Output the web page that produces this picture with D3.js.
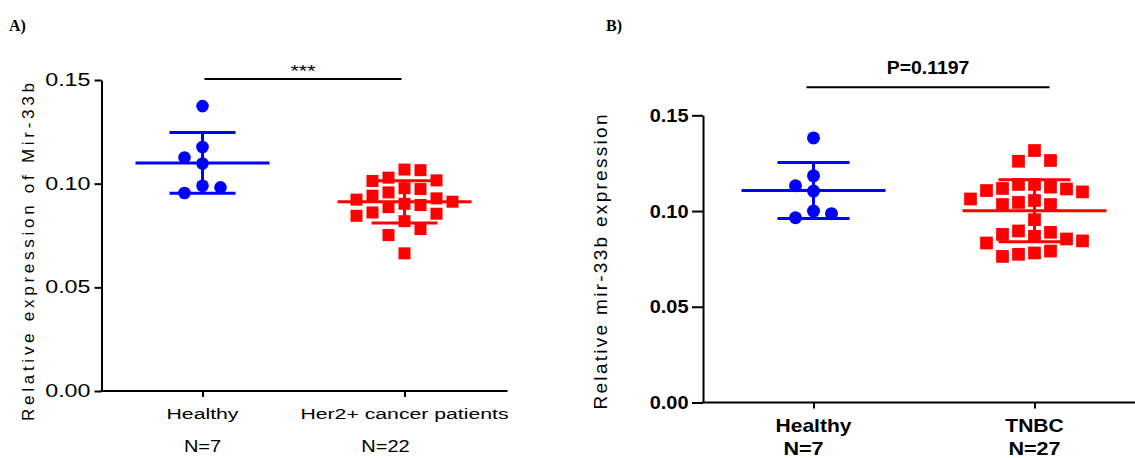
<!DOCTYPE html>
<html>
<head>
<meta charset="utf-8">
<script src="https://cdn.jsdelivr.net/npm/d3@7"></script>
<style>
  body { margin: 0; background: #fff; }
  svg { display: block; font-family: "Liberation Sans", Arial, sans-serif; }
</style>
</head>
<body>
<svg></svg>
<script>
// values
const groupsA = ["Healthy", "Her2+ cancer patients"];
const countsA = ["N=7", "N=22"];
const groupsB = ["Healthy", "TNBC"];
const countsB = ["N=7", "N=27"];
const yTicks = [0, 0.05, 0.10, 0.15];

const healthyA = [0.1374, 0.1177, 0.1126, 0.1097, 0.0990, 0.0982, 0.0955];
const her2 = [0.1068, 0.1065, 0.1016, 0.1029, 0.1013, 0.0978, 0.0958, 0.0942, 0.0974, 0.0929, 0.0913,
              0.0897, 0.0887, 0.0903, 0.0923, 0.0861, 0.0845, 0.0855, 0.0819, 0.0781, 0.0752, 0.0664];
const healthyB = [0.1382, 0.1184, 0.1132, 0.1104, 0.1000, 0.0986, 0.0965];
const tnbc = [0.1316, 0.1260, 0.1264, 0.1118, 0.1107, 0.1063, 0.1045, 0.1139, 0.1139, 0.1034, 0.1034,
              0.1055, 0.1100, 0.1115, 0.1125, 0.0955, 0.0896, 0.0854, 0.0833, 0.0878, 0.0868, 0.0889,
              0.0844, 0.0781, 0.0763, 0.0774, 0.0791];
const sigA = "***";
const sigB = "P=0.1197";

const svg = d3.select('svg')
  .attr('width', 1135)
  .attr('height', 458);

// simple beeswarm: points from high to low, pushed sideways on a half-step grid until free
const swarm = (values, y, cx, sx, sy) => {
  const half = sx / 2;
  const placed = [];
  values.map(v => v).sort((a, b) => b - a).forEach((v, n) => {
    const py = y(v);
    const hit = o => placed.some(p => Math.abs(p.y - py) < sy && Math.abs(p.off - o) < sx - 0.01);
    let off = 0;
    for (let k = 0; k < 40; k++) {
      const tries = k === 0 ? [0] : (n % 2 ? [k * half, -k * half] : [-k * half, k * half]);
      const ok = tries.find(o => !hit(o));
      if (ok !== undefined) { off = ok; break; }
    }
    placed.push({ v, y: py, off });
  });
  return placed.map(p => ({ value: p.v, x: cx + p.off, y: p.y }));
};

const font = (sel, f) => sel
  .attr('font-family', '"Liberation Sans", Arial, sans-serif')
  .attr('font-size', f.size)
  .attr('font-weight', f.weight)
  .attr('letter-spacing', f.spacing || 0)
  .attr('fill', '#000');

// the original figure text is drawn wide, so stretch it horizontally about its anchor
const stretch = (sel, s) => sel.each(function () {
  const t = d3.select(this);
  const x = +t.attr('x') || 0;
  const y = +t.attr('y') || 0;
  t.attr('x', 0).attr('y', 0)
    .attr('transform', `translate(${x},${y}) scale(${s},1)`);
});

const panels = [
  {
    label: "A)", labelX: 9, groups: groupsA, counts: countsA, series: [healthyA, her2],
    yTitle: "Relative expression of Mir-33b", sig: sigA,
    x0: 101.5, x1: 505.5, axisEnd: 507.5, yTop: 80, yBottom: 391,
    tickFont: { size: 17.5, weight: "normal", stretch: 1.33 }, tickLen: 7, tickGap: 4,
    catFont: { size: 15.5, weight: "normal", stretch: 1.37 }, catY: 419,
    nFont: { size: 16, weight: "normal", stretch: 1.25 }, nY: 452, nDx: [0, -19],
    titleX: 34, titleY: 252, titleFont: { size: 17, weight: "normal" }, titleLen: 338,
    sigDx: [2, -3], sigY: 79, sigTextY: 77, sigFont: { size: 17, weight: "normal", stretch: 1.25 },
    meanHalf: 67, capHalf: 33, r: 6.3, sq: 12, sx: [18, 16], sy: 14.5
  },
  {
    label: "B)", labelX: 606, groups: groupsB, counts: countsB, series: [healthyB, tnbc],
    yTitle: "Relative mir-33b expression", sig: sigB,
    x0: 703, x1: 1145, axisEnd: 1140, yTop: 115.3, yBottom: 402.5,
    tickFont: { size: 19, weight: "bold", stretch: 1.05 }, tickLen: 11, tickGap: 3.5,
    catFont: { size: 18, weight: "bold", stretch: 1.17 }, catY: 432,
    nFont: { size: 18, weight: "bold", stretch: 1.2 }, nY: 454.5, nDx: [-10, 0],
    titleX: 607, titleY: 262, titleFont: { size: 19, weight: "normal" }, titleLen: 295,
    sigDx: [-7, 15], sigY: 87.3, sigTextY: 74, sigFont: { size: 18, weight: "bold", stretch: 1.08 },
    meanHalf: 72, capHalf: 36, r: 6.5, sq: 12.7, sx: [18, 16], sy: 15
  }
];

const colors = ['#0000ff', '#ff0000'];

const render = p => {
  const xScale = d3.scalePoint()
    .domain(p.groups)
    .range([p.x0, p.x1])
    .padding(0.5);

  const yScale = d3.scaleLinear()
    .domain([0, 0.15])
    .range([p.yBottom, p.yTop]);

  const g = svg.append('g');

  // panel letter
  g.append('text')
    .attr('x', p.labelX)
    .attr('y', 31)
    .attr('font-family', '"Liberation Serif", "Times New Roman", serif')
    .attr('font-weight', 'bold')
    .attr('font-size', 16)
    .text(p.label);

  // y axis
  const yAxis = d3.axisLeft(yScale)
    .tickValues(yTicks)
    .tickFormat(d3.format('.2f'))
    .tickSize(p.tickLen)
    .tickSizeOuter(0)
    .tickPadding(p.tickGap);
  const yAxisG = g.append('g')
    .attr('transform', `translate(${p.x0},0)`)
    .call(yAxis)
    .attr('font-family', null)
    .attr('font-size', null);
  yAxisG.selectAll('path, line').attr('stroke', '#000').attr('stroke-width', 2);
  yAxisG.selectAll('text').call(font, p.tickFont).call(stretch, p.tickFont.stretch);

  // x axis
  const xAxis = d3.axisBottom(xScale)
    .tickSize(6)
    .tickSizeOuter(0)
    .tickFormat('');
  const xAxisG = g.append('g')
    .attr('transform', `translate(0,${p.yBottom})`)
    .call(xAxis);
  xAxisG.select('.domain').attr('d', `M${p.x0 - 1},0H${p.axisEnd}`);
  xAxisG.selectAll('path, line').attr('stroke', '#000').attr('stroke-width', 2);

  g.selectAll('.cat')
    .data(p.groups)
    .enter().append('text')
      .attr('class', 'cat')
      .attr('x', d => xScale(d))
      .attr('y', p.catY)
      .attr('text-anchor', 'middle')
      .call(font, p.catFont)
      .text(d => d)
      .call(stretch, p.catFont.stretch);

  g.selectAll('.count')
    .data(p.counts)
    .enter().append('text')
      .attr('class', 'count')
      .attr('x', (d, i) => xScale(p.groups[i]) + p.nDx[i])
      .attr('y', p.nY)
      .attr('text-anchor', 'middle')
      .call(font, p.nFont)
      .text(d => d)
      .call(stretch, p.nFont.stretch);

  // y axis title
  g.append('text')
    .attr('transform', `translate(${p.titleX},${p.titleY}) rotate(-90)`)
    .attr('text-anchor', 'middle')
    .attr('textLength', p.titleLen)
    .attr('lengthAdjust', 'spacing')
    .call(font, p.titleFont)
    .text(p.yTitle);

  // significance bar
  const sx0 = xScale(p.groups[0]) + p.sigDx[0];
  const sx1 = xScale(p.groups[1]) + p.sigDx[1];
  g.append('line')
    .attr('x1', sx0).attr('x2', sx1)
    .attr('y1', p.sigY).attr('y2', p.sigY)
    .attr('stroke', '#000')
    .attr('stroke-width', 2);
  g.append('text')
    .attr('x', (sx0 + sx1) / 2)
    .attr('y', p.sigTextY)
    .attr('text-anchor', 'middle')
    .call(font, p.sigFont)
    .text(p.sig)
    .call(stretch, p.sigFont.stretch);

  // groups: dots + mean and SD
  p.series.forEach((values, i) => {
    const cx = xScale(p.groups[i]);
    const color = colors[i];
    const pts = swarm(values, yScale, cx, p.sx[i], p.sy);
    const gg = g.append('g');

    if (i === 0) {
      gg.selectAll('circle')
        .data(pts)
        .enter().append('circle')
          .attr('cx', d => d.x)
          .attr('cy', d => d.y)
          .attr('r', p.r)
          .attr('fill', color);
    } else {
      gg.selectAll('rect')
        .data(pts)
        .enter().append('rect')
          .attr('x', d => d.x - p.sq / 2)
          .attr('y', d => d.y - p.sq / 2)
          .attr('width', p.sq)
          .attr('height', p.sq)
          .attr('fill', color);
    }

    const mean = d3.mean(values);
    const sd = d3.deviation(values);
    const bars = [
      [cx - p.meanHalf, cx + p.meanHalf, yScale(mean), yScale(mean)],
      [cx, cx, yScale(mean - sd), yScale(mean + sd)],
      [cx - p.capHalf, cx + p.capHalf, yScale(mean + sd), yScale(mean + sd)],
      [cx - p.capHalf, cx + p.capHalf, yScale(mean - sd), yScale(mean - sd)]
    ];
    gg.selectAll('line')
      .data(bars)
      .enter().append('line')
        .attr('x1', d => d[0]).attr('x2', d => d[1])
        .attr('y1', d => d[2]).attr('y2', d => d[3])
        .attr('stroke', color)
        .attr('stroke-width', 3);
  });
};

panels.forEach(render);
</script>
</body>
</html>
